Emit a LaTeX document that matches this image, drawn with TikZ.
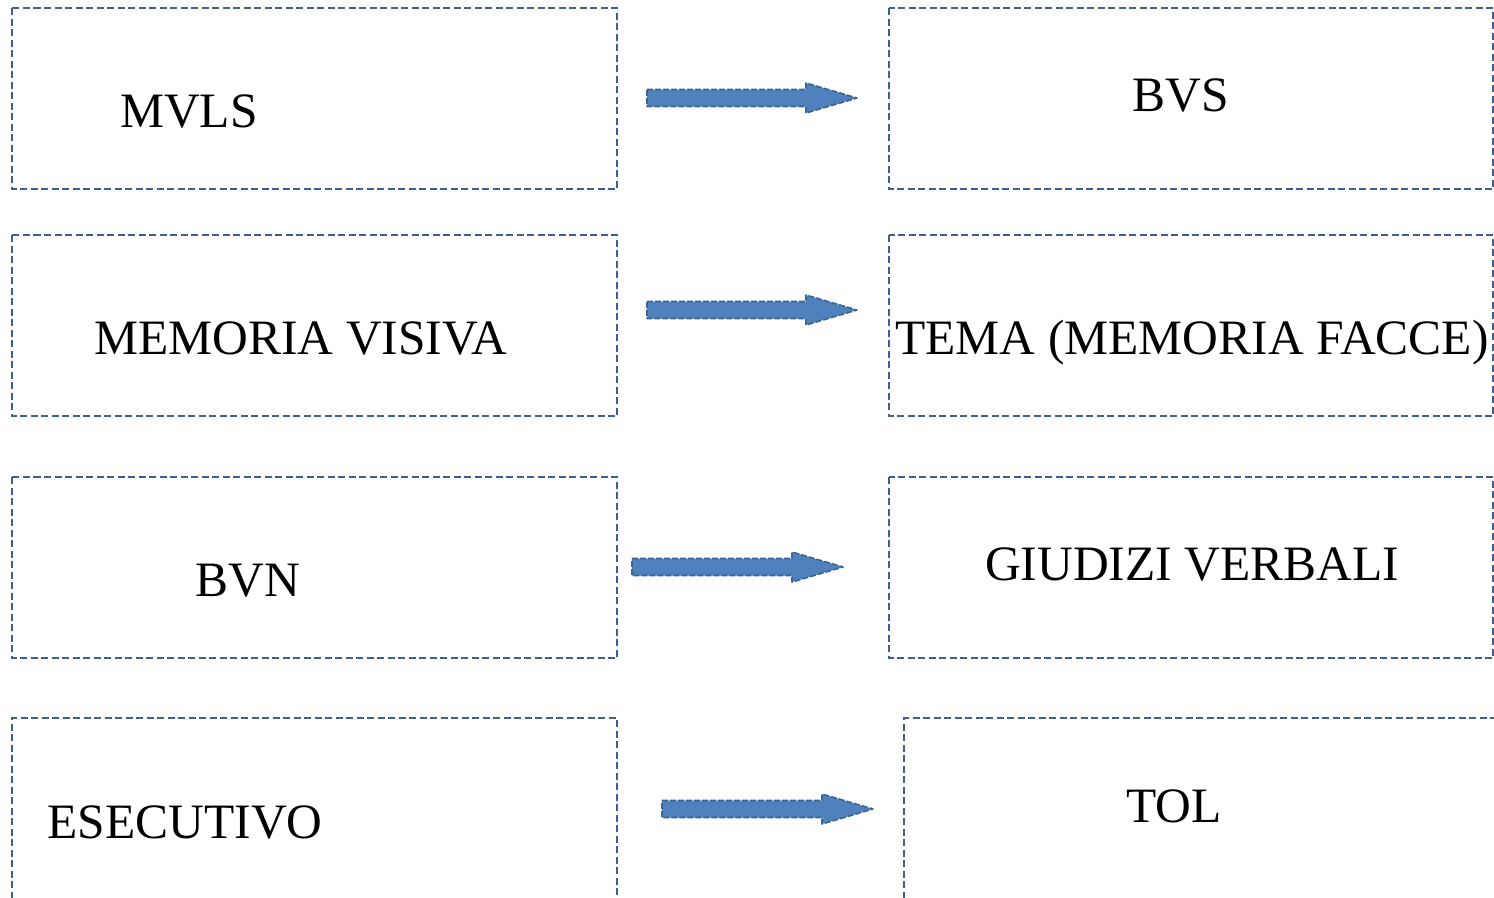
\documentclass[tikz,border=0pt]{standalone}
\usepackage{fontspec}
\setmainfont{Liberation Serif}
\definecolor{boxblue}{HTML}{3C6090}
\definecolor{arrfill}{HTML}{4F81BD}
\definecolor{arrline}{HTML}{3A6496}
\tikzset{
  frame/.style={draw=boxblue, line width=1.8pt, dash pattern=on 7pt off 3.5pt},
  lbl/.style={font=\fontsize{49.5}{58}\selectfont, anchor=base, inner sep=0pt},
  fatarr/.style={fill=arrfill, draw=arrline, line width=1.6pt, dash pattern=on 6pt off 2pt, line join=round}
}
\newcommand{\fatarrow}[3]{%
  \draw[fatarr] (#1,#3-8.5) -- (#2-51,#3-8.5) -- (#2-51,#3-15) -- (#2,#3) -- (#2-51,#3+15) -- (#2-51,#3+8.5) -- (#1,#3+8.5) -- cycle;}
\begin{document}
\begin{tikzpicture}[x=1pt,y=-1pt]
\useasboundingbox (0,0) rectangle (1494,897);
\clip (0,0) rectangle (1494,897);
% left boxes
\draw[frame] (12,8) rectangle (617,189) node[midway] (bl1) {};
\draw[frame] (12,235) rectangle (617,416) node[midway] (bl2) {};
\draw[frame] (12,477) rectangle (617,658) node[midway] (bl3) {};
\draw[frame] (12,930) -- (12,718) -- (617,718) -- (617,930);
% right boxes
\draw[frame] (889,8) rectangle (1493,189) node[midway] (br1) {};
\draw[frame] (889,235) rectangle (1493,416) node[midway] (br2) {};
\draw[frame] (889,477) rectangle (1493,658) node[midway] (br3) {};
\draw[frame] (904,930) -- (904,718) -- (1500,718);
% labels
\node[lbl] (t1) at (189,127) {MVLS};
\node[lbl] (t2) at (1181,111) {BVS};
\node[lbl] (t3) at (301,354) {MEMORIA VISIVA};
\node[lbl] (t4) at (1192,354) {TEMA (MEMORIA FACCE)};
\node[lbl] (t5) at (248,596) {BVN};
\node[lbl] (t6) at (1192,580) {GIUDIZI VERBALI};
\node[lbl] (t7) at (185,838) {ESECUTIVO};
\node[lbl] (t8) at (1174,822) {TOL};
% arrows
\fatarrow{647}{857}{98}
\fatarrow{647}{857}{310}
\fatarrow{632}{843}{567}
\fatarrow{662}{873}{809}
\end{tikzpicture}
\end{document}
